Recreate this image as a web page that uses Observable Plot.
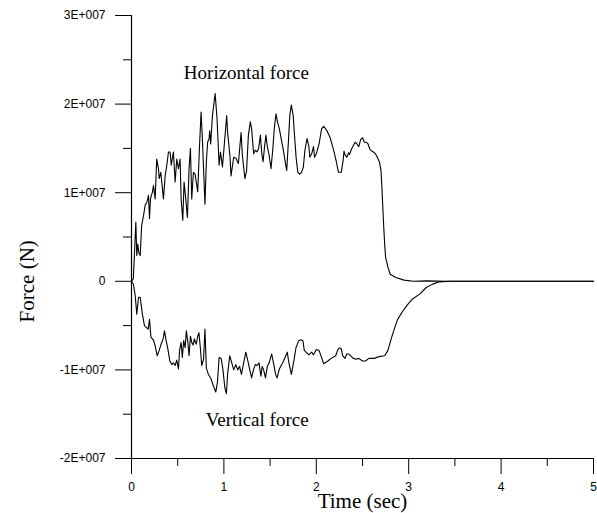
<!DOCTYPE html>
<html>
<head>
<meta charset="utf-8">
<script src="https://cdn.jsdelivr.net/npm/d3@7"></script>
<script src="https://cdn.jsdelivr.net/npm/@observablehq/plot@0.6"></script>
<style>
  html, body { margin: 0; padding: 0; background: #fff; }
</style>
</head>
<body>
<div id="chart"></div>
<script>
// Values in MN (1E+006 N); time in seconds
const horizontalTime = [0.00,0.02,0.047,0.057,0.068,0.080,0.094,0.11,0.13,0.148,0.166,0.184,0.195,0.205,0.227,0.238,0.256,0.273,0.292,0.30,0.317,0.346,0.364,0.382,0.40,0.418,0.43,0.454,0.472,0.49,0.508,0.526,0.537,0.555,0.569,0.587,0.605,0.623,0.638,0.652,0.67,0.688,0.717,0.735,0.753,0.767,0.795,0.81,0.824,0.84,0.846,0.857,0.876,0.905,0.926,0.948,0.963,0.984,1.005,1.03,1.04,1.065,1.077,1.106,1.13,1.157,1.186,1.20,1.227,1.245,1.265,1.286,1.30,1.322,1.34,1.358,1.376,1.395,1.41,1.424,1.44,1.455,1.47,1.49,1.51,1.53,1.545,1.564,1.58,1.60,1.62,1.64,1.66,1.68,1.70,1.713,1.73,1.75,1.764,1.782,1.80,1.82,1.84,1.86,1.877,1.90,1.92,1.93,1.95,1.97,1.98,2.00,2.03,2.057,2.08,2.115,2.15,2.19,2.215,2.24,2.27,2.29,2.30,2.31,2.33,2.35,2.36,2.38,2.40,2.42,2.44,2.46,2.48,2.50,2.52,2.54,2.56,2.58,2.60,2.63,2.645,2.66,2.685,2.70,2.71,2.72,2.73,2.74,2.75,2.775,2.80,2.86,2.95,3.05,3.20,3.40,5.00];
const horizontalForce = [0.0,0.3,6.7,2.9,4.2,3.2,2.9,6.3,7.4,8.6,8.9,9.7,7.1,9.3,10.1,10.8,9.3,13.8,12.7,11.6,12.3,9.3,11.9,13.1,14.6,14.6,13.1,14.6,11.2,13.8,12.7,13.8,9.3,6.9,11.2,9.3,7.2,12.7,15.0,9.3,12.3,12.1,10.1,15.0,19.1,16.1,8.7,13.5,15.7,16.1,17.0,15.5,18.7,21.2,18.3,13.1,14.6,12.9,15.5,18.7,16.8,14.2,11.9,14.0,13.9,13.3,16.8,14.2,11.6,12.4,16.5,18.0,17.2,14.4,14.8,14.6,15.0,16.5,14.4,13.5,15.2,16.5,15.2,14.2,12.7,15.0,17.2,18.9,18.0,17.2,16.1,15.0,13.7,12.5,16.1,18.7,19.9,18.7,16.5,13.9,12.3,12.1,12.3,12.9,14.8,16.1,15.2,14.0,14.4,15.2,14.0,14.4,15.5,17.2,17.5,17.0,16.2,14.7,13.6,12.3,12.3,13.6,14.7,14.3,14.0,14.5,14.3,14.9,15.3,15.7,15.5,15.2,16.0,16.2,15.7,15.7,15.5,14.9,14.7,14.5,14.3,14.0,13.4,12.5,10.6,8.3,6.1,4.2,2.7,1.6,0.8,0.43,0.13,0.0,0.05,0.0,0.0];

const verticalTime = [0.00,0.02,0.04,0.057,0.076,0.094,0.118,0.14,0.16,0.18,0.195,0.21,0.227,0.24,0.256,0.278,0.30,0.32,0.342,0.357,0.375,0.393,0.415,0.436,0.454,0.472,0.49,0.508,0.52,0.537,0.55,0.565,0.58,0.594,0.61,0.623,0.638,0.652,0.667,0.68,0.70,0.717,0.73,0.745,0.76,0.78,0.795,0.81,0.832,0.86,0.886,0.912,0.93,0.948,0.97,0.99,1.01,1.027,1.04,1.063,1.085,1.106,1.13,1.15,1.17,1.19,1.21,1.237,1.26,1.28,1.30,1.32,1.34,1.36,1.38,1.40,1.415,1.43,1.45,1.47,1.49,1.517,1.54,1.56,1.575,1.60,1.646,1.686,1.70,1.73,1.757,1.78,1.81,1.835,1.855,1.87,1.90,1.92,1.95,1.97,2.00,2.03,2.06,2.08,2.125,2.16,2.21,2.23,2.25,2.27,2.285,2.31,2.33,2.35,2.38,2.40,2.43,2.46,2.50,2.53,2.57,2.63,2.68,2.74,2.775,2.816,2.85,2.88,2.94,2.99,3.04,3.12,3.19,3.26,3.33,3.45,5.00];
const verticalForce = [0.0,-0.3,-1.6,-3.7,-1.8,-1.8,-3.7,-5.0,-5.2,-5.4,-4.3,-6.3,-6.5,-6.7,-7.3,-8.4,-7.8,-7.1,-6.5,-5.6,-6.7,-7.6,-9.0,-9.4,-9.2,-9.5,-8.9,-9.9,-7.8,-6.9,-8.6,-6.7,-7.5,-5.6,-6.9,-8.4,-6.2,-6.9,-7.2,-6.5,-7.1,-6.2,-5.8,-7.5,-9.5,-8.8,-5.4,-9.8,-10.5,-11.0,-11.8,-12.5,-11.4,-8.6,-8.7,-10.0,-12.0,-12.7,-10.5,-8.4,-9.2,-10.0,-9.4,-10.0,-9.6,-10.5,-9.4,-8.0,-9.0,-10.0,-10.9,-10.0,-9.4,-9.5,-9.2,-10.7,-9.6,-10.0,-10.9,-9.6,-9.2,-8.2,-9.4,-10.5,-10.9,-9.9,-9.0,-8.0,-9.0,-10.5,-9.0,-7.5,-6.7,-6.6,-6.7,-7.8,-8.1,-8.3,-8.0,-8.3,-7.7,-7.8,-8.7,-9.3,-9.0,-8.7,-8.4,-7.8,-7.5,-7.6,-8.4,-8.7,-8.2,-8.2,-8.5,-8.7,-8.8,-8.7,-9.0,-9.0,-8.7,-8.7,-8.5,-8.4,-7.8,-6.3,-5.2,-4.3,-3.3,-2.6,-2.0,-1.45,-0.7,-0.32,-0.06,0.0,0.0];

const xTicks = [0, 1, 2, 3, 4, 5];
const xTickLabels = ["0", "1", "2", "3", "4", "5"];
const xMinorTicks = [0.5, 1.5, 2.5, 3.5, 4.5];
const yTicks = [-20, -10, 0, 10, 20, 30];
const yTickLabels = ["-2E+007", "-1E+007", "0", "1E+007", "2E+007", "3E+007"];
const yMinorTicks = [-15, -5, 5, 15, 25];

const seriesLabels = ["Horizontal force", "Vertical force"];
const seriesLabelTime = [1.243, 1.36];
const seriesLabelForce = [23.5, -15.6];

const xTitle = "Time (sec)";
const yTitle = "Force (N)";

const hData = horizontalTime.map((t, i) => ({t, f: horizontalForce[i]}));
const vData = verticalTime.map((t, i) => ({t, f: verticalForce[i]}));
const labelData = seriesLabels.map((s, i) => ({s, t: seriesLabelTime[i], f: seriesLabelForce[i]}));

const serif = "'Liberation Serif', 'Times New Roman', serif";
const sans = "'Liberation Sans', Arial, sans-serif";

const chart = Plot.plot({
  width: 597,
  height: 513,
  marginLeft: 131,
  marginRight: 4,
  marginTop: 15,
  marginBottom: 55,
  style: {background: "white", color: "black", fontFamily: sans, fontSize: "12px"},
  x: {domain: [0, 5]},
  y: {domain: [-20, 30]},
  marks: [
    Plot.axisY({ticks: yTicks, tickSize: 16, tickPadding: 10, tickFormat: d => yTickLabels[yTicks.indexOf(d)], label: null, fontSize: 12, fontFamily: sans}),
    Plot.axisY({ticks: yMinorTicks, tickSize: 8, tickFormat: () => "", label: null}),
    Plot.axisX({ticks: xTicks, tickSize: 16, tickPadding: 8, tickFormat: d => xTickLabels[xTicks.indexOf(d)], label: null, fontSize: 12, fontFamily: sans}),
    Plot.axisX({ticks: xMinorTicks, tickSize: 8, tickFormat: () => "", label: null}),
    Plot.ruleX([0], {y1: -20, y2: 30, stroke: "black", strokeWidth: 1.2}),
    Plot.ruleY([-20], {x1: 0, x2: 5, stroke: "black", strokeWidth: 1.2}),
    Plot.line(hData, {x: "t", y: "f", stroke: "black", strokeWidth: 1.1}),
    Plot.line(vData, {x: "t", y: "f", stroke: "black", strokeWidth: 1.1}),
    Plot.text(labelData, {x: "t", y: "f", text: "s", fontFamily: serif, fontSize: 19, fill: "black"}),
    Plot.text([xTitle], {x: 2.5, y: -20, text: d => d, dy: 43, fontFamily: serif, fontSize: 21, fill: "black"}),
    Plot.text([yTitle], {x: 0, y: 0, text: d => d, dx: -104, rotate: -90, fontFamily: serif, fontSize: 21, fill: "black"})
  ]
});
document.getElementById("chart").appendChild(chart);
</script>
</body>
</html>
